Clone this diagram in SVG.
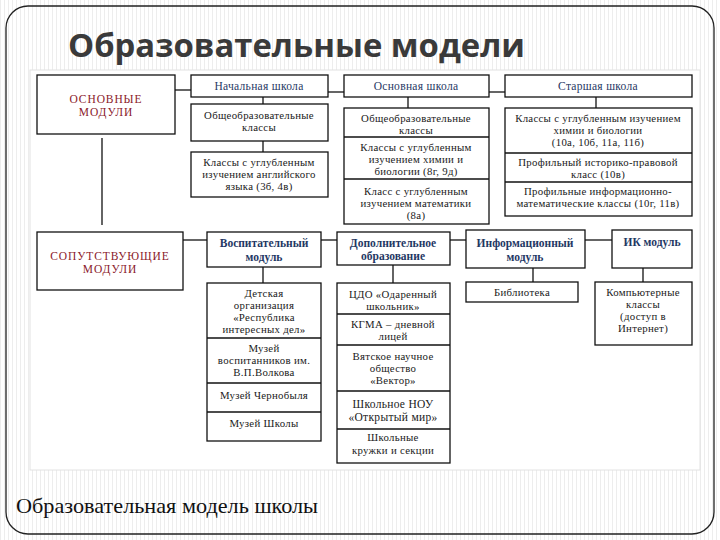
<svg xmlns="http://www.w3.org/2000/svg" width="720" height="540" viewBox="0 0 720 540">
<defs>
<pattern id="stripes" width="4" height="4" patternUnits="userSpaceOnUse">
<rect width="4" height="4" fill="#ffffff"/>
<rect x="0" y="0" width="1" height="4" fill="#ededed"/>
</pattern>
</defs>
<style>
.box{fill:#ffffff;stroke:#111;stroke-width:1.3}
.ln{stroke:#111;stroke-width:1.3;fill:none}
.t{font-family:'Liberation Serif','Times New Roman',serif;font-size:10.8px;letter-spacing:0.3px;fill:#1a1a1a;text-anchor:middle}
.big{font-size:11.5px}
.hd{font-family:'Liberation Serif','Times New Roman',serif;font-size:11.5px;letter-spacing:0.3px;fill:#1f3864;text-anchor:middle}
.hb{font-family:'Liberation Serif','Times New Roman',serif;font-size:11.5px;font-weight:bold;fill:#1f3864;text-anchor:middle}
.red{font-family:'Liberation Serif','Times New Roman',serif;font-size:11.5px;letter-spacing:0.9px;fill:#8b1a2b;text-anchor:middle}
</style>
<rect x="0" y="0" width="720" height="540" fill="url(#stripes)"/>
<rect x="6" y="6" width="708" height="528" rx="22" ry="22" fill="url(#stripes)" stroke="#222" stroke-width="1.3"/>
<text x="68" y="57" font-family="'Open Sans','Noto Sans',sans-serif" font-weight="bold" font-size="33" fill="#3a3a3a" textLength="457" lengthAdjust="spacingAndGlyphs">Образовательные модели</text>
<rect x="30" y="70" width="670" height="400" fill="#ffffff" stroke="#e2e2e2" stroke-width="1"/>

<g id="connectors">
<line class="ln" x1="175" y1="90" x2="191" y2="90"/>
<line class="ln" x1="328" y1="92" x2="344" y2="92"/>
<line class="ln" x1="489" y1="92" x2="505" y2="92"/>
<line class="ln" x1="102" y1="138" x2="102" y2="225"/>
<line class="ln" x1="263" y1="97" x2="263" y2="104"/>
<line class="ln" x1="263" y1="141" x2="263" y2="152"/>
<line class="ln" x1="408" y1="97" x2="408" y2="108"/>
<line class="ln" x1="596" y1="97" x2="596" y2="108"/>
<line class="ln" x1="183" y1="240" x2="207" y2="240"/>
<line class="ln" x1="321" y1="240" x2="337" y2="240"/>
<line class="ln" x1="450" y1="240" x2="466" y2="240"/>
<line class="ln" x1="585" y1="240" x2="612" y2="240"/>
<line class="ln" x1="263" y1="267" x2="263" y2="283"/>
<line class="ln" x1="393" y1="265" x2="393" y2="283"/>
<line class="ln" x1="533" y1="268" x2="533" y2="282"/>
<line class="ln" x1="643" y1="268" x2="643" y2="282"/>
</g>

<g id="osnovnye">
<rect class="box" x="37" y="75" width="138" height="59"/>
<text class="red" x="106" y="103">ОСНОВНЫЕ</text>
<text class="red" x="106" y="116">МОДУЛИ</text>
</g>
<g id="soputstv">
<rect class="box" x="37" y="232" width="146" height="58"/>
<text class="red" x="110" y="260">СОПУТСТВУЮЩИЕ</text>
<text class="red" x="110" y="273">МОДУЛИ</text>
</g>

<g id="nachalnaya">
<rect class="box" x="191" y="75" width="137" height="22"/>
<text class="hd" x="259" y="90">Начальная школа</text>
</g>
<g id="nach-obsh">
<rect class="box" x="191" y="104" width="137" height="37"/>
<text class="t" x="259" y="119">Общеобразовательные</text>
<text class="t" x="259" y="131">классы</text>
</g>
<g id="nach-angl">
<rect class="box" x="191" y="152" width="137" height="45"/>
<text class="t" x="259" y="166">Классы с углубленным</text>
<text class="t" x="259" y="178">изучением английского</text>
<text class="t" x="259" y="190">языка (3б, 4в)</text>
</g>

<g id="osnovnaya">
<rect class="box" x="344" y="75" width="145" height="22"/>
<text class="hd" x="416" y="90">Основная школа</text>
</g>
<g id="osn-table">
<rect class="box" x="344" y="108" width="145" height="116"/>
<line class="ln" x1="344" y1="137" x2="489" y2="137"/>
<line class="ln" x1="344" y1="179" x2="489" y2="179"/>
<text class="t" x="416" y="122">Общеобразовательные</text>
<text class="t" x="416" y="134">классы</text>
<text class="t" x="416" y="151">Классы с углубленным</text>
<text class="t" x="416" y="163">изучением химии и</text>
<text class="t" x="416" y="175">биологии (8г, 9д)</text>
<text class="t" x="416" y="195">Класс с углубленным</text>
<text class="t" x="416" y="207">изучением математики</text>
<text class="t" x="416" y="219">(8а)</text>
</g>

<g id="starshaya">
<rect class="box" x="505" y="75" width="187" height="22"/>
<text class="hd" x="598" y="90">Старшая школа</text>
</g>
<g id="star-table">
<rect class="box" x="505" y="108" width="187" height="108"/>
<line class="ln" x1="505" y1="153" x2="692" y2="153"/>
<line class="ln" x1="505" y1="182" x2="692" y2="182"/>
<text class="t" x="598" y="122">Классы с углубленным изучением</text>
<text class="t" x="598" y="134">химии и биологии</text>
<text class="t" x="598" y="146">(10а, 10б, 11а, 11б)</text>
<text class="t" x="598" y="166">Профильный историко-правовой</text>
<text class="t" x="598" y="178">класс (10в)</text>
<text class="t" x="598" y="195">Профильные информационно-</text>
<text class="t" x="598" y="207">математические классы (10г, 11в)</text>
</g>

<g id="vospit">
<rect class="box" x="207" y="232" width="114" height="35"/>
<text class="hb" x="264" y="247">Воспитательный</text>
<text class="hb" x="264" y="261">модуль</text>
</g>
<g id="vospit-table">
<rect class="box" x="207" y="283" width="114" height="158"/>
<line class="ln" x1="207" y1="338" x2="321" y2="338"/>
<line class="ln" x1="207" y1="383" x2="321" y2="383" stroke-width="2"/>
<line class="ln" x1="207" y1="412" x2="321" y2="412"/>
<text class="t" x="264" y="297">Детская</text>
<text class="t" x="264" y="309">организация</text>
<text class="t" x="264" y="321">«Республика</text>
<text class="t" x="264" y="333">интересных дел»</text>
<text class="t" x="264" y="352">Музей</text>
<text class="t" x="264" y="364">воспитанников им.</text>
<text class="t" x="264" y="376">В.П.Волкова</text>
<text class="t" x="264" y="399">Музей Чернобыля</text>
<text class="t" x="264" y="427">Музей Школы</text>
</g>

<g id="dopoln">
<rect class="box" x="337" y="232" width="113" height="33"/>
<text class="hb" x="393" y="247">Дополнительное</text>
<text class="hb" x="393" y="260">образование</text>
</g>
<g id="dopoln-table">
<rect class="box" x="337" y="283" width="113" height="180"/>
<line class="ln" x1="337" y1="314" x2="450" y2="314"/>
<line class="ln" x1="337" y1="345" x2="450" y2="345"/>
<line class="ln" x1="337" y1="391" x2="450" y2="391"/>
<line class="ln" x1="337" y1="429" x2="450" y2="429"/>
<text class="t" x="393" y="298">ЦДО «Одаренный</text>
<text class="t" x="393" y="310">школьник»</text>
<text class="t" x="393" y="328">КГМА – дневной</text>
<text class="t" x="393" y="340">лицей</text>
<text class="t" x="393" y="360">Вятское научное</text>
<text class="t" x="393" y="372">общество</text>
<text class="t" x="393" y="384">«Вектор»</text>
<text class="t big" x="393" y="408">Школьное НОУ</text>
<text class="t big" x="393" y="421">«Открытый мир»</text>
<text class="t" x="393" y="441">Школьные</text>
<text class="t" x="393" y="454">кружки и секции</text>
</g>

<g id="inform">
<rect class="box" x="466" y="230" width="119" height="38"/>
<text class="hb" x="525" y="247">Информационный</text>
<text class="hb" x="525" y="261">модуль</text>
</g>
<g id="biblioteka">
<rect class="box" x="466" y="282" width="112" height="20"/>
<text class="t" x="522" y="296">Библиотека</text>
</g>

<g id="ik">
<rect class="box" x="612" y="230" width="80" height="38"/>
<text class="hb" x="652" y="246">ИК модуль</text>
</g>
<g id="komp">
<rect class="box" x="595" y="282" width="97" height="63"/>
<text class="t" x="643" y="296">Компьютерные</text>
<text class="t" x="643" y="308">классы</text>
<text class="t" x="643" y="320">(доступ в</text>
<text class="t" x="643" y="332">Интернет)</text>
</g>

<text x="16" y="513" font-family="'Liberation Serif','DejaVu Serif',serif" font-size="21" fill="#111" textLength="302" lengthAdjust="spacingAndGlyphs">Образовательная модель школы</text>
</svg>
